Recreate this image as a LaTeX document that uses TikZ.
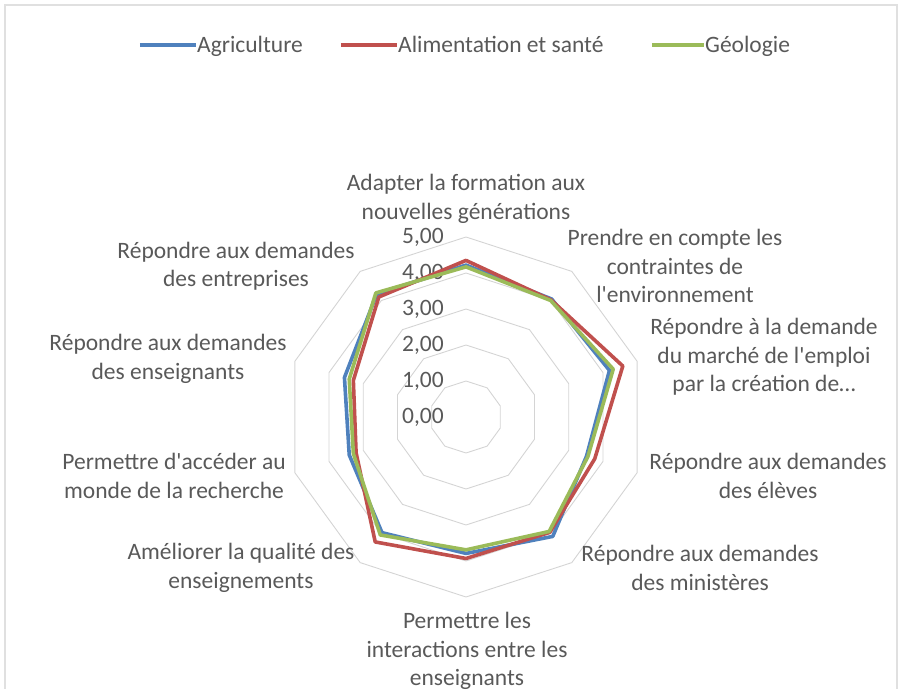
\documentclass[tikz,border=0pt]{standalone}
\usepackage{fontspec}
\setmainfont{Carlito}

\definecolor{agriblue}{HTML}{4F81BD}
\definecolor{alimred}{HTML}{C0504D}
\definecolor{geogreen}{HTML}{9BBB59}
\definecolor{labelgray}{HTML}{595959}

\tikzset{
  gridring/.style={draw=black!17, line width=0.9pt},
  series/.style={line width=3.6pt, line join=round},
  agri/.style={series, draw=agriblue},
  alim/.style={series, draw=alimred},
  geo/.style={series, draw=geogreen},
  catlabel/.style={align=center, text=labelgray, font=\fontsize{23.5}{28.5}\selectfont},
  ticklabel/.style={anchor=east, xshift=-22pt, text=labelgray, font=\fontsize{23.5}{28.5}\selectfont, inner sep=0pt},
  legendtext/.style={anchor=base west, inner sep=1pt, text=labelgray, font=\fontsize{23.5}{28.5}\selectfont},
}

\begin{document}
\begin{tikzpicture}[x=36pt, y=36pt]

  \useasboundingbox (-466pt,-272pt) rectangle (437pt,417pt);
  \draw[black!12, line width=1.5pt] (-461pt,-272pt) -- (-461pt,412pt) -- (431pt,412pt) -- (431pt,-272pt);

  \foreach \lvl in {1,...,5}
    \draw[gridring] (90:\lvl) \foreach \k in {1,...,9} {-- (90-36*\k:\lvl)} -- cycle;

  \foreach \k in {0,...,5}
    \node[ticklabel] (tick\k) at (0,\k) {\k,00};

  \draw[agri] (90:4.22) -- (54:4.05) -- (18:4.19) -- (-18:3.52) -- (-54:4.10)
    -- (-90:3.79) -- (-126:3.97) -- (-162:3.41) -- (162:3.55) -- (126:4.22) -- cycle;
  \draw[alim] (90:4.35) -- (54:4.02) -- (18:4.58) -- (-18:3.76) -- (-54:3.96)
    -- (-90:3.93) -- (-126:4.29) -- (-162:3.21) -- (162:3.29) -- (126:4.12) -- cycle;
  \draw[geo] (90:4.17) -- (54:4.00) -- (18:4.30) -- (-18:3.56) -- (-54:3.93)
    -- (-90:3.69) -- (-126:4.05) -- (-162:3.29) -- (162:3.41) -- (126:4.26) -- cycle;

  \node[catlabel] (adapter) at (0pt,218pt) {Adapter la formation aux\\nouvelles générations};
  \node[catlabel] (environ) at (209pt,151pt) {Prendre en compte les\\contraintes de\\l\textquotesingle environnement};
  \node[catlabel] (emploi) at (298pt,60pt) {Répondre à la demande\\du marché de l\textquotesingle emploi\\par la création de\dots};
  \node[catlabel] (eleves) at (302pt,-59pt) {Répondre aux demandes\\des élèves};
  \node[catlabel] (ministeres) at (234pt,-151pt) {Répondre aux demandes\\des ministères};
  \node[catlabel] (interact) at (1pt,-234pt) {Permettre les\\interactions entre les\\enseignants};
  \node[catlabel] (qualite) at (-225pt,-151pt) {Améliorer la qualité des\\enseignements};
  \node[catlabel] (recherche) at (-292pt,-59pt) {Permettre d\textquotesingle accéder au\\monde de la recherche};
  \node[catlabel] (enseign) at (-298pt,58pt) {Répondre aux demandes\\des enseignants};
  \node[catlabel] (entrepr) at (-230pt,151pt) {Répondre aux demandes\\des entreprises};

  \node[legendtext] (lgagri) at (-270pt,364pt) {Agriculture};
  \node[legendtext] (lgalim) at (-69pt,364pt) {Alimentation et santé};
  \node[legendtext] (lggeo) at (238pt,364pt) {Géologie};
  \draw[agri] ([shift={(-56pt,8pt)}]lgagri.base west) -- ([yshift=8pt]lgagri.base west);
  \draw[alim] ([shift={(-56pt,8pt)}]lgalim.base west) -- ([yshift=8pt]lgalim.base west);
  \draw[geo] ([shift={(-52pt,8pt)}]lggeo.base west) -- ([yshift=8pt]lggeo.base west);

\end{tikzpicture}
\end{document}
